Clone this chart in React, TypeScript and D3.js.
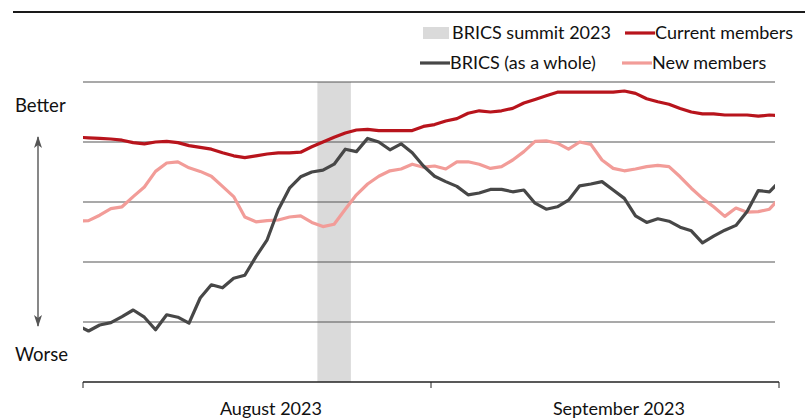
import React from "react";
import * as d3 from "d3";

// Daily index values (arbitrary sentiment scale), starting 2023-07-31
const startDate = "2023-07-31";
const bricsWhole = [0.94, 0.85, 0.95, 0.99, 1.09, 1.2, 1.08, 0.87, 1.12, 1.08, 0.98, 1.4, 1.62, 1.57, 1.73, 1.78, 2.09, 2.37, 2.87, 3.23, 3.42, 3.5, 3.53, 3.63, 3.88, 3.84, 4.06, 4.0, 3.87, 3.97, 3.82, 3.6, 3.43, 3.34, 3.26, 3.12, 3.15, 3.21, 3.21, 3.17, 3.2, 2.98, 2.88, 2.92, 3.03, 3.27, 3.3, 3.34, 3.2, 3.06, 2.77, 2.66, 2.72, 2.68, 2.58, 2.52, 2.32, 2.43, 2.53, 2.61, 2.84, 3.19, 3.17, 3.36];
const currentMembers = [4.08, 4.07, 4.06, 4.05, 4.03, 3.99, 3.97, 4.0, 4.01, 3.99, 3.94, 3.91, 3.88, 3.82, 3.77, 3.74, 3.77, 3.8, 3.82, 3.82, 3.83, 3.92, 4.0, 4.08, 4.15, 4.2, 4.21, 4.19, 4.19, 4.19, 4.19, 4.26, 4.29, 4.35, 4.39, 4.48, 4.52, 4.5, 4.52, 4.56, 4.65, 4.71, 4.77, 4.83, 4.83, 4.83, 4.83, 4.83, 4.83, 4.85, 4.81, 4.72, 4.67, 4.63, 4.56, 4.5, 4.47, 4.47, 4.45, 4.45, 4.45, 4.43, 4.45, 4.44];
const newMembers = [2.68, 2.69, 2.78, 2.89, 2.92, 3.09, 3.25, 3.51, 3.65, 3.67, 3.57, 3.51, 3.43, 3.26, 3.09, 2.75, 2.67, 2.69, 2.7, 2.75, 2.77, 2.66, 2.59, 2.63, 2.88, 3.12, 3.3, 3.43, 3.52, 3.55, 3.63, 3.58, 3.6, 3.55, 3.67, 3.67, 3.63, 3.56, 3.59, 3.7, 3.84, 4.01, 4.02, 3.98, 3.88, 4.0, 3.96, 3.7, 3.56, 3.52, 3.55, 3.59, 3.61, 3.59, 3.42, 3.23, 3.06, 2.92, 2.76, 2.9, 2.83, 2.84, 2.88, 3.08];

const summitDates = ["2023-08-22", "2023-08-24"];
const monthTicks = [0, 1, 2];
const monthLabels = ["August 2023", "September 2023"];
const gridValues = [1, 2, 3, 4, 5];
const legendLabels = ["BRICS summit 2023", "Current members", "BRICS (as a whole)", "New members"];
const axisWords = ["Better", "Worse"];

const COLORS = {
  whole: "#474747",
  current: "#b8141c",
  fresh: "#f29c98",
  band: "#dadada",
  grid: "#555555",
};

const FONT = "Lato, sans-serif";

export default function App() {
  const W = 811;
  const H = 418;
  const plotL = 83;
  const plotR = 775;

  const parse = d3.utcParse("%Y-%m-%d");
  const t0 = parse(startDate) as Date;
  const dayIndex = (s: string) => d3.utcDay.count(t0, parse(s) as Date);

  const xIdx = d3.scaleLinear().domain([0, 63]).range([77.4, 780.6]);
  const xMonth = d3.scaleLinear().domain([0, 2]).range([83, 779]);
  const y = d3.scaleLinear().domain([0, 5]).range([382, 82]);

  const line = d3
    .line<number>()
    .x((_, i) => xIdx(i))
    .y((d) => y(d));

  const bandX0 = xIdx(dayIndex(summitDates[0]) - 0.5);
  const bandX1 = xIdx(dayIndex(summitDates[1]) + 0.5);

  return (
    <svg
      width={W}
      height={H}
      style={{ position: "fixed", left: 0, top: 0, background: "#fff" }}
      fontFamily={FONT}
    >
      <defs>
        <clipPath id="plotclip">
          <rect x={plotL} y={0} width={plotR - plotL} height={H} />
        </clipPath>
        <marker id="arrowHead" viewBox="0 0 12 8" refX="11" refY="4" markerWidth="12" markerHeight="8" orient="auto-start-reverse" markerUnits="userSpaceOnUse">
          <path d="M0,0 L12,4 L0,8 L3,4 Z" fill="#555" />
        </marker>
      </defs>

      {/* top rule */}
      <line x1={13} x2={805} y1={12} y2={12} stroke="#1a1a1a" strokeWidth={2.2} />

      {/* summit band */}
      <rect x={bandX0} y={y(5)} width={bandX1 - bandX0} height={y(0) - y(5)} fill={COLORS.band} />

      {/* gridlines */}
      {gridValues.map((v) => (
        <line key={v} x1={plotL} x2={plotR} y1={y(v)} y2={y(v)} stroke={COLORS.grid} strokeWidth={1.2} />
      ))}

      {/* series */}
      <g clipPath="url(#plotclip)" fill="none" strokeLinejoin="round" strokeLinecap="butt">
        <path d={line(newMembers) || ""} stroke={COLORS.fresh} strokeWidth={3.2} />
        <path d={line(currentMembers) || ""} stroke={COLORS.current} strokeWidth={3.2} />
        <path d={line(bricsWhole) || ""} stroke={COLORS.whole} strokeWidth={3.2} />
      </g>

      {/* x axis */}
      <line x1={xMonth(0)} x2={xMonth(2)} y1={y(0)} y2={y(0)} stroke="#222" strokeWidth={1.6} />
      {monthTicks.map((m) => (
        <line key={m} x1={xMonth(m)} x2={xMonth(m)} y1={y(0)} y2={y(0) + 6} stroke="#222" strokeWidth={1} />
      ))}
      {monthLabels.map((lab, i) => (
        <text key={lab} x={xMonth(i + 0.54)} y={415} textAnchor="middle" fontSize={18} fill="#111">
          {lab}
        </text>
      ))}

      {/* better / worse */}
      <text x={15} y={112} fontSize={18.5} fill="#111">{axisWords[0]}</text>
      <text x={15} y={361} fontSize={18.5} fill="#111">{axisWords[1]}</text>
      <line x1={38} x2={38} y1={137} y2={326} stroke="#555" strokeWidth={1.4} markerStart="url(#arrowHead)" markerEnd="url(#arrowHead)" />

      {/* legend */}
      <rect x={423} y={27} width={26} height={12} fill={COLORS.band} />
      <text x={452} y={39} fontSize={18} fill="#111">{legendLabels[0]}</text>
      <line x1={625} x2={655} y1={33} y2={33} stroke={COLORS.current} strokeWidth={3.2} />
      <text x={655} y={39} fontSize={18} fill="#111">{legendLabels[1]}</text>
      <line x1={420} x2={450} y1={63} y2={63} stroke={COLORS.whole} strokeWidth={3.2} />
      <text x={450} y={69} fontSize={18} fill="#111">{legendLabels[2]}</text>
      <line x1={622} x2={652} y1={63} y2={63} stroke={COLORS.fresh} strokeWidth={3.2} />
      <text x={652} y={69} fontSize={18} fill="#111">{legendLabels[3]}</text>
    </svg>
  );
}
